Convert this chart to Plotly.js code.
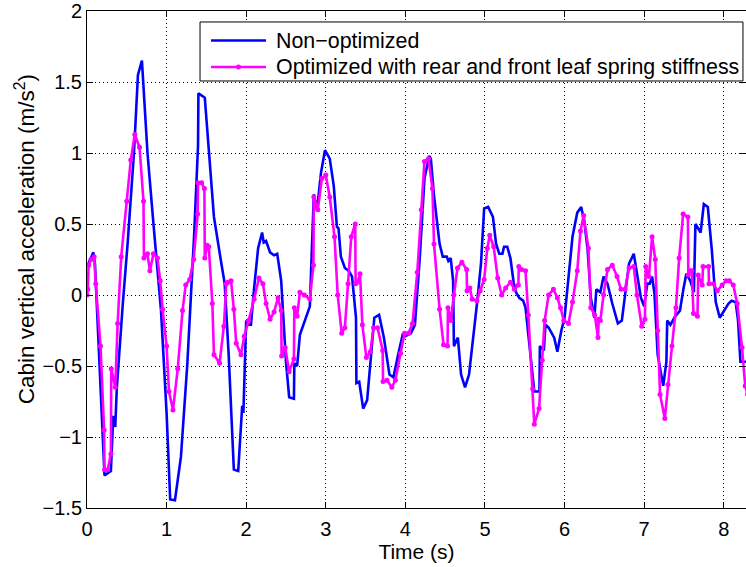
<!DOCTYPE html>
<html>
<head>
<meta charset="utf-8">
<script src="https://cdn.plot.ly/plotly-3.0.1.min.js"></script>
<style>html,body{margin:0;padding:0;background:#fff;}#chart{width:746px;height:567px;}</style>
</head>
<body>
<div id="chart"></div>
<script>
// Non-optimized series
const tNon = [0.00,0.08,0.10,0.22,0.30,0.33,0.355,0.375,0.45,0.51,0.59,0.64,0.69,0.76,0.835,0.93,1.00,1.045,1.105,1.18,1.26,1.345,1.395,1.40,1.48,1.53,1.595,1.68,1.73,1.78,1.845,1.90,1.95,1.965,2.00,2.03,2.06,2.10,2.15,2.20,2.22,2.25,2.30,2.35,2.39,2.44,2.50,2.54,2.60,2.605,2.64,2.675,2.74,2.80,2.85,2.89,2.94,2.99,3.05,3.10,3.14,3.16,3.19,3.24,3.29,3.33,3.38,3.385,3.42,3.47,3.52,3.56,3.61,3.67,3.73,3.80,3.85,3.91,3.97,4.00,4.07,4.12,4.18,4.24,4.30,4.32,4.36,4.43,4.47,4.52,4.54,4.57,4.60,4.61,4.66,4.70,4.75,4.80,4.84,4.90,4.95,4.99,5.04,5.10,5.14,5.18,5.22,5.24,5.28,5.32,5.36,5.39,5.43,5.48,5.51,5.55,5.62,5.685,5.69,5.74,5.76,5.80,5.87,5.91,5.96,6.00,6.06,6.10,6.16,6.21,6.25,6.29,6.33,6.375,6.40,6.45,6.49,6.54,6.60,6.67,6.72,6.77,6.81,6.87,6.91,6.96,7.00,7.04,7.07,7.10,7.13,7.17,7.24,7.28,7.29,7.33,7.39,7.45,7.49,7.53,7.58,7.625,7.645,7.71,7.75,7.80,7.85,7.90,7.95,8.01,8.06,8.10,8.15,8.18,8.21,8.25,8.30];
const aNon = [0.20,0.30,0.22,-1.27,-1.24,-0.85,-0.93,-0.65,-0.06,0.36,1.00,1.55,1.65,1.00,0.50,-0.11,-0.83,-1.44,-1.445,-1.14,-0.49,0.41,1.05,1.42,1.39,1.00,0.55,0.25,0.08,-0.42,-1.23,-1.24,-0.78,-0.83,-0.18,-0.21,-0.21,0.05,0.33,0.44,0.37,0.38,0.30,0.28,0.29,0.10,-0.47,-0.72,-0.73,-0.48,-0.50,-0.28,-0.18,-0.08,0.71,0.60,0.86,1.02,0.96,0.77,0.48,0.47,0.27,0.19,0.17,0.13,-0.16,-0.62,-0.61,-0.80,-0.74,-0.47,-0.16,-0.14,-0.30,-0.56,-0.58,-0.42,-0.27,-0.29,-0.27,-0.21,0.25,0.82,0.98,0.96,0.70,0.36,0.27,0.27,0.24,0.26,0.10,-0.36,-0.30,-0.56,-0.65,-0.56,-0.37,-0.06,0.22,0.61,0.62,0.55,0.36,0.29,0.29,0.34,0.34,0.26,0.09,0.02,-0.02,-0.04,-0.09,-0.30,-0.68,-0.68,-0.36,-0.39,-0.21,-0.23,-0.30,-0.40,-0.25,-0.16,0.17,0.41,0.58,0.62,0.51,0.32,-0.02,-0.16,0.04,0.02,0.13,0.08,-0.06,-0.20,-0.18,0.03,0.22,0.29,0.15,-0.02,-0.08,0.08,0.08,0.13,0.01,-0.42,-0.64,-0.47,-0.18,-0.21,-0.15,-0.11,0.03,0.15,0.10,0.02,0.50,0.44,0.64,0.62,0.32,-0.05,-0.16,-0.11,-0.06,-0.04,-0.05,-0.18,-0.47,-0.47,-0.47];

// Optimized series (rear and front leaf spring stiffness)
const tOpt = [0.00,0.01,0.02,0.05,0.09,0.11,0.17,0.215,0.22,0.26,0.30,0.305,0.355,0.385,0.43,0.50,0.55,0.60,0.66,0.71,0.715,0.76,0.79,0.835,0.885,0.92,0.95,1.00,1.03,1.08,1.14,1.20,1.24,1.29,1.34,1.39,1.395,1.44,1.475,1.48,1.51,1.53,1.575,1.595,1.666,1.72,1.75,1.77,1.81,1.845,1.875,1.935,1.975,2.03,2.10,2.16,2.21,2.25,2.30,2.35,2.40,2.44,2.445,2.49,2.54,2.60,2.605,2.64,2.675,2.73,2.80,2.845,2.85,2.90,2.95,3.00,3.05,3.11,3.15,3.20,3.24,3.28,3.32,3.37,3.375,3.40,3.43,3.46,3.51,3.56,3.60,3.65,3.715,3.72,3.77,3.83,3.875,3.94,3.99,4.04,4.09,4.15,4.20,4.24,4.29,4.34,4.36,4.43,4.48,4.53,4.535,4.57,4.61,4.655,4.71,4.77,4.775,4.81,4.84,4.90,4.94,4.99,5.03,5.06,5.11,5.16,5.21,5.26,5.32,5.37,5.42,5.425,5.46,5.51,5.545,5.60,5.62,5.68,5.72,5.75,5.80,5.86,5.91,5.95,5.99,6.05,6.10,6.16,6.20,6.24,6.30,6.33,6.38,6.42,6.43,6.45,6.49,6.54,6.60,6.66,6.71,6.76,6.81,6.87,6.91,6.97,7.01,7.02,7.06,7.10,7.14,7.17,7.20,7.26,7.30,7.35,7.40,7.44,7.49,7.55,7.555,7.58,7.60,7.62,7.67,7.68,7.73,7.74,7.81,7.815,7.87,7.92,7.98,8.03,8.07,8.12,8.17,8.23,8.27,8.30];
const aOpt = [0.00,0.04,0.21,0.25,0.27,0.08,-0.36,-0.95,-1.23,-1.23,-1.12,-0.52,-0.65,-0.20,0.27,0.66,0.95,1.13,1.04,0.66,0.26,0.29,0.17,0.29,0.26,0.10,-0.10,-0.36,-0.68,-0.81,-0.52,-0.11,0.07,0.11,0.25,0.57,0.79,0.79,0.75,0.26,0.35,0.34,-0.06,-0.42,-0.48,-0.22,0.08,0.09,0.10,-0.10,-0.34,-0.42,-0.29,-0.18,-0.03,0.12,0.08,-0.06,-0.17,-0.12,-0.02,-0.11,-0.43,-0.37,-0.54,-0.45,-0.09,-0.15,0.02,0.00,-0.03,0.21,0.69,0.60,0.82,0.845,0.69,0.41,0.00,-0.27,-0.23,0.08,0.41,0.50,0.08,0.09,0.15,-0.21,-0.44,-0.40,-0.23,-0.23,-0.39,-0.61,-0.60,-0.65,-0.60,-0.41,-0.27,-0.27,-0.20,0.16,0.60,0.94,0.96,0.75,0.36,-0.10,-0.35,-0.36,-0.09,-0.18,0.00,0.19,0.23,0.18,0.03,0.05,-0.03,-0.04,0.03,0.11,0.33,0.42,0.34,0.12,0.00,0.05,0.09,0.04,0.07,0.20,0.18,0.17,-0.14,-0.66,-0.91,-0.80,-0.46,-0.18,0.00,0.04,-0.02,-0.09,-0.18,-0.20,-0.05,0.17,0.45,0.56,0.33,-0.09,-0.14,-0.30,-0.17,-0.18,0.00,0.18,0.21,0.13,0.04,0.04,0.19,0.20,0.00,-0.22,-0.17,0.20,0.13,0.41,0.25,-0.25,-0.70,-0.87,-0.63,-0.36,-0.09,0.26,0.57,0.55,0.14,0.17,0.17,-0.13,-0.15,0.14,0.07,0.20,0.20,0.08,0.08,0.03,0.07,0.10,0.10,0.07,-0.06,-0.37,-0.64,-0.70];

const xTicks = [0,1,2,3,4,5,6,7,8];
const yTicks = [-1.5,-1,-0.5,0,0.5,1,1.5,2];
const seriesNames = ['Non\u2212optimized','Optimized with rear and front leaf spring stiffness'];
const xTitle = 'Time (s)';
const yTitle = 'Cabin vertical acceleration (m/s<sup>2</sup>)';

const FONT = 'Liberation Sans, Arial, Helvetica, sans-serif';
const BLUE = '#0000ff', MAG = '#ff00ff';

const traces = [
  {x: tNon, y: aNon, type: 'scatter', mode: 'lines', name: seriesNames[0],
   line: {color: BLUE, width: 2.6}, showlegend: false},
  {x: tOpt, y: aOpt, type: 'scatter', mode: 'lines+markers', name: seriesNames[1],
   line: {color: MAG, width: 2.6}, marker: {color: MAG, size: 5}, showlegend: false}
];

// legend box drawn in paper coordinates
const L = {x0: 0.1715, x1: 0.9954, y0: 0.8592, y1: 0.9779, sx0: 0.1882, sx1: 0.2716, r1: 0.9406, r2: 0.8873, tx: 0.2838};

const layout = {
  width: 746, height: 567,
  margin: {l: 87, r: 0, t: 11, b: 59, pad: 0},
  paper_bgcolor: '#fff', plot_bgcolor: '#fff',
  font: {family: FONT, size: 20, color: '#000'},
  xaxis: {
    range: [0, 8.28], tickvals: xTicks, ticks: 'inside', ticklen: 6, tickcolor: '#000',
    showline: true, linecolor: '#000', linewidth: 1, mirror: 'ticks',
    showgrid: true, gridcolor: '#000', gridwidth: 1, griddash: '1px,3px', zeroline: false,
    tickfont: {family: FONT, size: 20, color: '#000'}, ticklabelstandoff: 3,
    title: {text: xTitle, font: {family: FONT, size: 21, color: '#000'}, standoff: 2}
  },
  yaxis: {
    range: [-1.5, 2], tickvals: yTicks, ticks: 'inside', ticklen: 6, tickcolor: '#000',
    showline: true, linecolor: '#000', linewidth: 1, mirror: 'ticks',
    showgrid: true, gridcolor: '#000', gridwidth: 1, griddash: '1px,3px', zeroline: false,
    tickfont: {family: FONT, size: 20, color: '#000'}
  },
  shapes: [
    {type: 'rect', xref: 'paper', yref: 'paper', x0: L.x0, x1: L.x1, y0: L.y0, y1: L.y1,
     line: {color: '#000', width: 1}, fillcolor: '#fff', layer: 'above'},
    {type: 'line', xref: 'paper', yref: 'paper', x0: L.sx0, x1: L.sx1, y0: L.r1, y1: L.r1,
     line: {color: BLUE, width: 2.6}, layer: 'above'},
    {type: 'line', xref: 'paper', yref: 'paper', x0: L.sx0, x1: L.sx1, y0: L.r2, y1: L.r2,
     line: {color: MAG, width: 2.6}, layer: 'above'},
    {type: 'circle', xref: 'paper', yref: 'paper', xsizemode: 'pixel', ysizemode: 'pixel',
     xanchor: (L.sx0 + L.sx1) / 2, yanchor: L.r2, x0: -2.5, x1: 2.5, y0: -2.5, y1: 2.5,
     line: {color: MAG, width: 0}, fillcolor: MAG, layer: 'above'}
  ],
  annotations: [
    {xref: 'paper', yref: 'paper', x: L.tx, y: L.r1, xanchor: 'left', yanchor: 'middle', showarrow: false,
     text: seriesNames[0], font: {family: FONT, size: 21.4, color: '#000'}},
    {xref: 'paper', yref: 'paper', x: L.tx, y: L.r2, xanchor: 'left', yanchor: 'middle', showarrow: false,
     text: seriesNames[1], font: {family: FONT, size: 21.4, color: '#000'}},
    {xref: 'paper', yref: 'paper', x: -0.094, y: 0.541, xanchor: 'center', yanchor: 'middle', showarrow: false,
     textangle: -90, text: yTitle, font: {family: FONT, size: 22.5, color: '#000'}}
  ]
};

Plotly.newPlot('chart', traces, layout, {displayModeBar: false, staticPlot: true});
</script>
</body>
</html>
